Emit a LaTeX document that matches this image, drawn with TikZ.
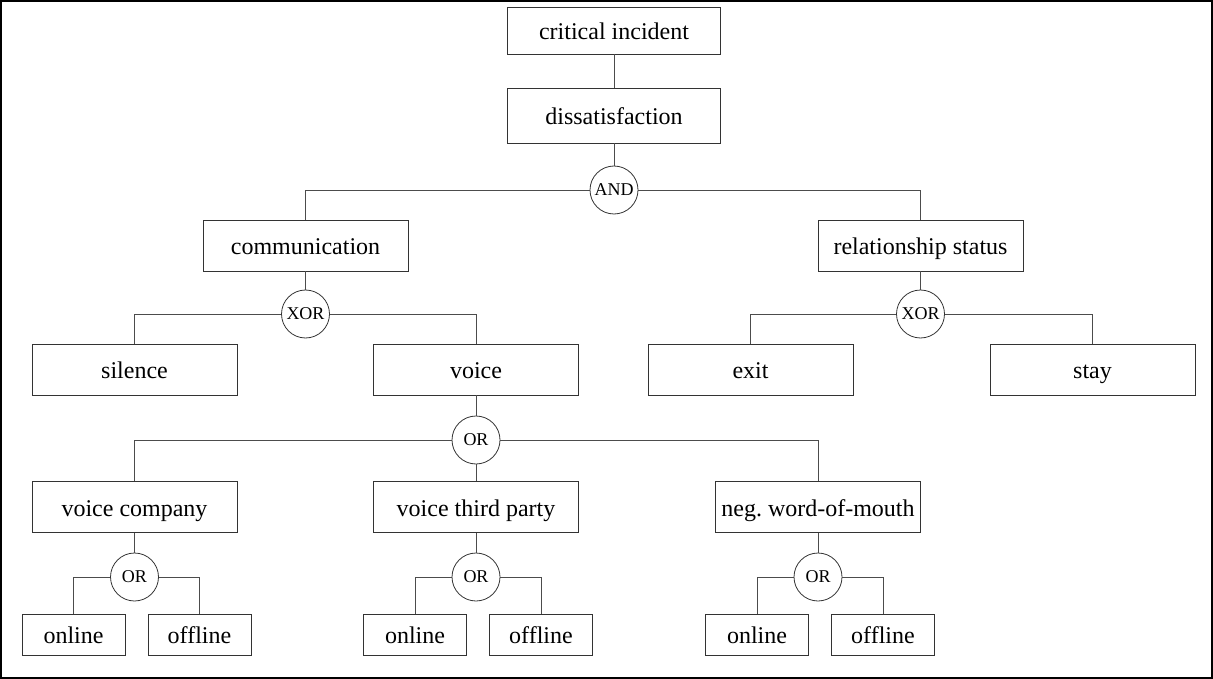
\documentclass[tikz,border=0pt]{standalone}
\usepackage{fontspec}
\setmainfont{Liberation Serif}
\frenchspacing
\begin{document}
\begin{tikzpicture}[x=1pt, y=-1pt,
    box/.style={draw=black!80, line width=0.8pt, minimum width=205pt, minimum height=51pt,
        inner sep=0pt, text height=22pt, text depth=4pt, font=\fontsize{24}{28}\selectfont},
    leaf/.style={box, minimum width=103pt, minimum height=41pt},
    gate/.style={draw=black!80, circle, line width=0.8pt, minimum size=48pt, inner sep=0pt,
        font=\fontsize{18}{21}\selectfont},
    link/.style={draw=black!70, line width=0.8pt}]
    \useasboundingbox (0,0) rectangle (1213,679);
    \draw[line width=2.4pt] (1.2,1.2) rectangle (1211.8,677.8);

    % Top of the tree
    \node[box, minimum width=213pt, minimum height=47pt] (crit) at (614,30.5) {critical incident};
    \node[box, minimum width=213pt, minimum height=55pt] (diss) at (614,115.5) {dissatisfaction};
    \node[gate] (and) at (614,190) {AND};
    \draw[link] (crit) -- (diss);
    \draw[link] (diss) -- (and);

    % Communication and relationship status
    \node[box] (comm) at (305.5,245.5) {communication};
    \node[box] (rel) at (920.5,245.5) {relationship status};
    \draw[link] (and.west) -| (comm.north);
    \draw[link] (and.east) -| (rel.north);
    \node[gate] (xorc) at (305.5,314) {XOR};
    \node[gate] (xorr) at (920.5,314) {XOR};
    \draw[link] (comm) -- (xorc);
    \draw[link] (rel) -- (xorr);

    % Second level
    \node[box] (sil) at (134.5,369.5) {silence};
    \node[box] (voice) at (476,369.5) {voice};
    \node[box] (exit) at (750.5,369.5) {exit};
    \node[box] (stay) at (1092.5,369.5) {stay};
    \draw[link] (xorc.west) -| (sil.north);
    \draw[link] (xorc.east) -| (voice.north);
    \draw[link] (xorr.west) -| (exit.north);
    \draw[link] (xorr.east) -| (stay.north);

    % Voice channels
    \node[gate] (orv) at (476,440) {OR};
    \draw[link] (voice) -- (orv);
    \node[box] (vc) at (134.5,507) {voice company};
    \node[box] (vt) at (476,507) {voice third party};
    \node[box] (nw) at (818,507) {neg. word-of-mouth};
    \draw[link] (orv.west) -| (vc.north);
    \draw[link] (orv) -- (vt);
    \draw[link] (orv.east) -| (nw.north);

    % Online / offline leaves
    \foreach \p/\x in {vc/134.5, vt/476, nw/818} {
        \node[gate] (or-\p) at (\x,577) {OR};
        \node[leaf] (\p-on) at (\x-61,634.5) {online};
        \node[leaf] (\p-off) at (\x+65,634.5) {offline};
        \draw[link] (\p) -- (or-\p);
        \draw[link] (or-\p.west) -| (\p-on.north);
        \draw[link] (or-\p.east) -| (\p-off.north);
    }
\end{tikzpicture}
\end{document}
